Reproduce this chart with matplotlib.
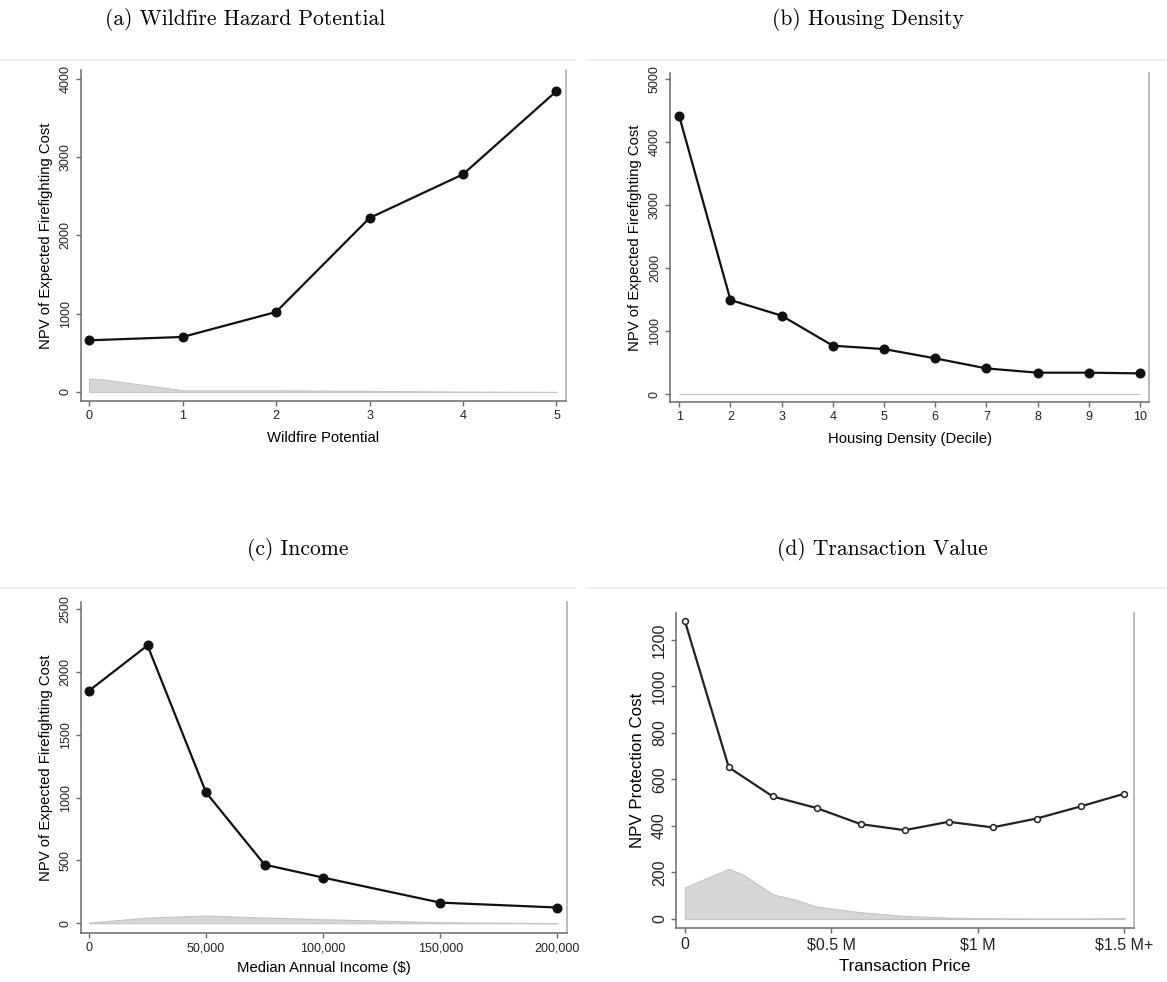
#
# Imports
#
from matplotlib import pyplot as plt
from matplotlib.ticker import FuncFormatter
import matplotlib.lines as mlines

#
# Data
#
# (a) wildfire hazard potential
wfp_x = [0, 1, 2, 3, 4, 5]
wfp_cost = [660, 703, 1022, 2223, 2781, 3845]
wfp_dens_x = [0, 0.15, 1, 2, 3, 4, 5]
wfp_dens = [170, 160, 21, 21, 13, 4, 0]

# (b) housing density decile
hd_x = [1, 2, 3, 4, 5, 6, 7, 8, 9, 10]
hd_cost = [4405, 1492, 1243, 767, 714, 566, 407, 339, 339, 328]
hd_dens_x = [1, 10]
hd_dens = [4, 4]

# (c) median annual income
inc_x = [0, 25000, 50000, 75000, 100000, 150000, 200000]
inc_cost = [1849, 2210, 1040, 466, 363, 164, 125]
inc_dens_x = [0, 25000, 50000, 75000, 100000, 150000, 200000]
inc_dens = [5, 45, 61, 45, 32, 8, 0]

# (d) transaction price, $ millions
tp_x = [0, 0.15, 0.3, 0.45, 0.6, 0.75, 0.9, 1.05, 1.2, 1.35, 1.5]
tp_cost = [1282, 652, 527, 477, 408, 382, 418, 394, 432, 484, 539]
tp_dens_x = [0, 0.15, 0.2, 0.3, 0.38, 0.45, 0.6, 0.75, 0.9, 1.05, 1.2, 1.35, 1.5]
tp_dens = [136, 216, 190, 106, 82, 53, 29, 13, 6, 3, 2, 2, 4]

titles = ["(a) Wildfire Hazard Potential", "(b) Housing Density",
          "(c) Income", "(d) Transaction Value"]

SANS = ["Liberation Sans", "DejaVu Sans"]
AXCOL = "#6a6a6a"


def style_axes(ax, fs_tick, fs_label):
    ax.spines["top"].set_visible(False)
    for s in ("left", "bottom"):
        ax.spines[s].set_color(AXCOL)
        ax.spines[s].set_linewidth(1.1)
    ax.spines["right"].set_color("#a8a8a8")
    ax.spines["right"].set_linewidth(1.1)
    ax.tick_params(axis="both", colors=AXCOL, length=3.5, width=1.0,
                   labelcolor="#222222", labelsize=fs_tick)
    ax.tick_params(axis="y", labelrotation=90, pad=3)
    ax.tick_params(axis="x", pad=3)
    for lab in ax.get_yticklabels():
        lab.set_va("center")
    ax.xaxis.label.set_size(fs_label)
    ax.yaxis.label.set_size(fs_label)


def draw_panel(ax, x, y, dx, dy, filled=True):
    ax.fill_between(dx, 0, dy, facecolor="#d6d6d6", edgecolor="#c4c4c4",
                    linewidth=0.8, zorder=1)
    if filled:
        ax.plot(x, y, "-o", color="#111111", lw=1.6, ms=6.2, zorder=3)
    else:
        ax.plot(x, y, "-o", color="#222222", lw=1.6, ms=4.2,
                mfc="white", mec="#222222", mew=1.1, zorder=3)


if __name__ == "__main__":
    plt.rcParams["font.family"] = SANS
    fig = plt.figure(figsize=(11.67, 9.82), dpi=100)

    # faint frame lines at the top of each panel image
    for (x0, x1, yy) in [(0.0, 0.493, 0.939), (0.502, 1.0, 0.939),
                         (0.0, 0.493, 0.401), (0.502, 1.0, 0.401)]:
        fig.add_artist(mlines.Line2D([x0, x1], [yy, yy], color="#ececec",
                                     lw=1.2, transform=fig.transFigure))

    ax_a = fig.add_axes([0.0692, 0.5920, 0.4155, 0.3367])
    ax_b = fig.add_axes([0.5741, 0.5909, 0.4105, 0.3348])
    ax_c = fig.add_axes([0.0692, 0.0496, 0.4164, 0.3377])
    ax_d = fig.add_axes([0.5793, 0.0547, 0.3928, 0.3208])

    # (a)
    draw_panel(ax_a, wfp_x, wfp_cost, wfp_dens_x, wfp_dens)
    ax_a.set_xlim(-0.089, 5.098)
    ax_a.set_ylim(-111, 4114)
    ax_a.set_xticks(wfp_x)
    ax_a.set_yticks([0, 1000, 2000, 3000, 4000])
    ax_a.set_xlabel("Wildfire Potential", labelpad=7)
    ax_a.set_ylabel("NPV of Expected Firefighting Cost", labelpad=5)
    style_axes(ax_a, 9, 10.7)

    # (b)
    draw_panel(ax_b, hd_x, hd_cost, hd_dens_x, hd_dens)
    ax_b.set_xlim(0.818, 10.176)
    ax_b.set_ylim(-122, 5095)
    ax_b.set_xticks(hd_x)
    ax_b.set_yticks([0, 1000, 2000, 3000, 4000, 5000])
    ax_b.set_xlabel("Housing Density (Decile)", labelpad=7)
    ax_b.set_ylabel("NPV of Expected Firefighting Cost", labelpad=5)
    style_axes(ax_b, 9, 10.7)

    # (c)
    draw_panel(ax_c, inc_x, inc_cost, inc_dens_x, inc_dens)
    ax_c.set_xlim(-3500, 203970)
    ax_c.set_ylim(-80, 2558)
    ax_c.set_xticks([0, 50000, 100000, 150000, 200000])
    ax_c.xaxis.set_major_formatter(FuncFormatter(lambda v, p: f"{int(v):,}"))
    ax_c.set_yticks([0, 500, 1000, 1500, 2000, 2500])
    ax_c.set_xlabel("Median Annual Income ($)", labelpad=5)
    ax_c.set_ylabel("NPV of Expected Firefighting Cost", labelpad=5)
    style_axes(ax_c, 9, 10.7)

    # (d)
    draw_panel(ax_d, tp_x, tp_cost, tp_dens_x, tp_dens, filled=False)
    ax_d.set_xlim(-0.03, 1.534)
    ax_d.set_ylim(-40, 1315)
    ax_d.set_xticks([0, 0.5, 1, 1.5])
    ax_d.set_xticklabels(["0", "$0.5 M", "$1 M", "$1.5 M+"])
    ax_d.set_yticks([0, 200, 400, 600, 800, 1000, 1200])
    ax_d.set_xlabel("Transaction Price", labelpad=5)
    ax_d.set_ylabel("NPV Protection Cost", labelpad=5)
    style_axes(ax_d, 11.5, 12.2)

    # panel titles
    fig.text(0.210, 0.980, titles[0], ha="center", va="center",
             family="cmr10", fontsize=15.5)
    fig.text(0.744, 0.980, titles[1], ha="center", va="center",
             family="cmr10", fontsize=15.5)
    fig.text(0.255, 0.440, titles[2], ha="center", va="center",
             family="cmr10", fontsize=15.5)
    fig.text(0.756, 0.440, titles[3], ha="center", va="center",
             family="cmr10", fontsize=15.5)

    fig.savefig("out.png", dpi=100, facecolor="white")
